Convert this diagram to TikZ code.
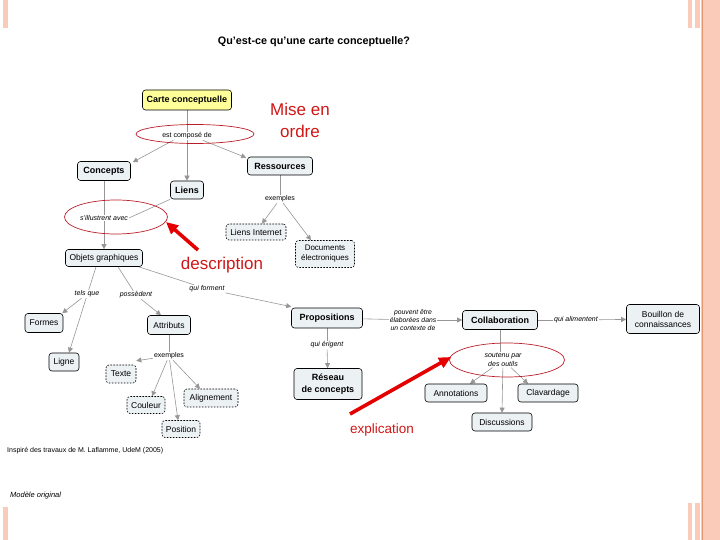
\documentclass[tikz,border=0pt]{standalone}
\usepackage{fontspec}
\setmainfont{Liberation Sans}
\usetikzlibrary{arrows.meta,shapes.geometric}
\definecolor{stripe}{RGB}{249,203,184}
\definecolor{stripedark}{RGB}{232,150,112}
\definecolor{nodefill}{RGB}{236,241,244}
\definecolor{connc}{RGB}{150,150,150}
\definecolor{redtxt}{RGB}{208,22,22}
\definecolor{ellred}{RGB}{185,30,40}
\definecolor{yellowbox}{RGB}{255,255,153}
\pgfdeclarelayer{bg}
\pgfsetlayers{bg,main}
\tikzset{
  cbox/.style={draw=black, line width=0.6pt, rounded corners=3pt, fill=nodefill,
    font=\fontsize{8.5}{10}\selectfont, inner sep=2pt, align=center},
  bbox/.style={cbox, font=\fontsize{9}{11}\selectfont\bfseries},
  dbox/.style={cbox, dash pattern=on 1.6pt off 1.4pt},
  lbl/.style={font=\fontsize{7}{8}\selectfont\itshape, fill=white, inner sep=0.8pt, align=center},
  lblr/.style={lbl, font=\fontsize{7}{8}\selectfont},
  connl/.style={draw=connc, line width=0.6pt},
  arr/.style={connl, -{Triangle[length=5pt,width=5pt]}},
  redell/.style={draw=ellred, line width=0.7pt, ellipse, inner sep=0pt},
  bigred/.style={draw=red!90!black, line width=3.6pt, -{Triangle[length=12pt,width=11pt]}},
  redlabel/.style={text=redtxt, align=center}
}
\begin{document}
\begin{tikzpicture}[x=1pt,y=-1pt]
\useasboundingbox (0,0) rectangle (720,540);
% decorative stripes
\fill[stripe] (3,0) rectangle (8,28);
\fill[stripe] (3,507) rectangle (8,540);
\fill[stripe] (688,0) rectangle (692,28);
\fill[stripe] (688,503) rectangle (692,540);
\fill[stripe] (695,0) rectangle (700,28);
\fill[stripe] (695,503) rectangle (700,540);
\fill[stripe] (701,0) rectangle (720,540);
\draw[stripedark, line width=0.8pt] (702.5,0) -- (702.5,540);

% title
\node (title) at (314,42) {\fontsize{10.8}{12}\selectfont\bfseries Qu'est-ce qu'une carte conceptuelle?};

% concept nodes
\node[bbox, fill=yellowbox, minimum width=89pt, minimum height=20pt] (carte) at (187,100) {Carte conceptuelle};
\node[bbox, minimum width=53pt, minimum height=19pt] (concepts) at (104,171) {Concepts};
\node[bbox, minimum width=33pt, minimum height=18pt] (liens) at (187,190) {Liens};
\node[bbox, minimum width=65pt, minimum height=18pt] (ressources) at (280,166) {Ressources};
\node[dbox, minimum width=60pt, minimum height=16pt] (internet) at (256,232) {Liens Internet};
\node[dbox, minimum width=59pt, minimum height=27pt, font=\fontsize{8}{10}\selectfont] (docs) at (325,254) {Documents\\électroniques};
\node[cbox, minimum width=77pt, minimum height=17pt] (objets) at (104,258) {Objets graphiques};
\node[cbox, minimum width=38pt, minimum height=19pt] (formes) at (44,323) {Formes};
\node[cbox, minimum width=30pt, minimum height=18pt] (ligne) at (64,362) {Ligne};
\node[cbox, minimum width=43pt, minimum height=19pt] (attributs) at (169,325) {Attributs};
\node[dbox, minimum width=30pt, minimum height=18pt] (texte) at (121,374) {Texte};
\node[dbox, minimum width=38pt, minimum height=17pt] (couleur) at (146,405) {Couleur};
\node[dbox, minimum width=54pt, minimum height=18pt] (alignement) at (211,398) {Alignement};
\node[dbox, minimum width=38pt, minimum height=17pt] (position) at (181,429) {Position};
\node[bbox, minimum width=71pt, minimum height=20pt] (propositions) at (327,318) {Propositions};
\node[bbox, minimum width=68pt, minimum height=31pt, font=\fontsize{9}{11.5}\selectfont\bfseries] (reseau) at (328,384) {Réseau\\de concepts};
\node[bbox, minimum width=75pt, minimum height=19pt] (collab) at (500,320) {Collaboration};
\node[cbox, minimum width=73pt, minimum height=29pt] (bouillon) at (663,319) {Bouillon de\\connaissances};
\node[cbox, minimum width=62pt, minimum height=18pt] (annot) at (456,393) {Annotations};
\node[cbox, minimum width=60pt, minimum height=18pt] (clav) at (548,393) {Clavardage};
\node[cbox, minimum width=60pt, minimum height=18pt] (disc) at (502,422) {Discussions};

% link labels
\node[lblr] (ecd) at (187,136) {est composé de};
\node[lbl] (sill) at (104,218) {s'illustrent avec};
\node[lblr] (ex1) at (280,199) {exemples};
\node[lbl] (telsque) at (87,294) {tels que};
\node[lbl] (possedent) at (136,295) {possèdent};
\node[lbl] (quiforment) at (207,289) {qui forment};
\node[lblr] (ex2) at (169,356) {exemples};
\node[lbl, font=\fontsize{6.8}{8.2}\selectfont\itshape] (pouvent) at (413,320) {pouvent être\\élaborées dans\\un contexte de};
\node[lbl] (qerig) at (327,345) {qui érigent};
\node[lbl] (qalim) at (576,320) {qui alimentent};
\node[lbl, font=\fontsize{7}{8.5}\selectfont\itshape] (soutenu) at (503,360) {soutenu par\\des outils};

% red ellipses
\node[redell, minimum width=118pt, minimum height=19pt] (ell1) at (195,134) {};
\node[redell, minimum width=103pt, minimum height=34pt] (ell2) at (116,217) {};
\node[redell, minimum width=115pt, minimum height=34pt] (ell3) at (507,360) {};

% connectors
\begin{pgfonlayer}{bg}
\draw[arr] (carte.south) -- (liens.north);
\draw[arr] ([xshift=12pt]ecd.south west) -- ([xshift=2pt,yshift=-1pt]concepts.north east);
\draw[arr] ([xshift=-10pt]ecd.south east) -- ([xshift=-1pt,yshift=-1pt]ressources.north west);
\draw[arr] (concepts.south) -- (objets.north);
\draw[connl] (liens.south west) -- (sill.east);
\draw[connl] (ressources) -- (ex1);
\draw[arr] (ex1) -- ([xshift=6pt]internet.north);
\draw[arr] (ex1) -- ([xshift=-14pt]docs.north);
\draw[arr] ([xshift=-8pt]objets.south) -- ([xshift=5pt]ligne.north);
\draw[arr] (telsque) -- ([xshift=-1pt]formes.north east);
\draw[connl] ([xshift=14pt]objets.south) -- (possedent);
\draw[arr] (possedent) -- ([xshift=-8pt]attributs.north);
\draw[connl] ([xshift=-4pt]objets.south east) -- (quiforment);
\draw[arr] (quiforment) -- ([yshift=1pt]propositions.north west);
\draw[connl] (attributs) -- (ex2);
\draw[arr] (ex2) -- ([yshift=4pt]texte.north east);
\draw[arr] (ex2) -- ([xshift=6pt]couleur.north);
\draw[arr] (ex2) -- ([xshift=-3pt]position.north);
\draw[arr] (ex2) -- ([xshift=-11pt]alignement.north);
\draw[connl] (propositions) -- (pouvent);
\draw[arr] (pouvent) -- (collab);
\draw[connl] (propositions) -- (qerig);
\draw[arr] (qerig) -- (reseau);
\draw[connl] (collab) -- (qalim);
\draw[arr] (qalim) -- (bouillon);
\draw[connl] (collab.south) -- (collab.south |- soutenu.north);
\draw[arr] (soutenu) -- ([xshift=14pt]annot.north);
\draw[arr] (soutenu) -- ([xshift=-20pt]clav.north);
\draw[arr] (soutenu) -- (disc.north);
\end{pgfonlayer}

% annotations in red
\node[redlabel, font=\fontsize{17}{22}\selectfont] (mise) at (300,120) {Mise en\\ordre};
\node[redlabel, font=\fontsize{17}{20}\selectfont] (desc) at (222,265) {description};
\node[redlabel, font=\fontsize{13.5}{16}\selectfont] (expl) at (382,430) {explication};
\coordinate (r1s) at (198,250);
\coordinate (r1e) at (166,222);
\draw[bigred] (r1s) -- (r1e);
\coordinate (r2s) at (350,414);
\coordinate (r2e) at (451,357);
\draw[bigred] (r2s) -- (r2e);

% footer texts
\node[anchor=west, inner sep=0pt] (insp) at (7,451) {\fontsize{7}{8}\selectfont Inspiré des travaux de M. Laflamme, UdeM (2005)};
\node[anchor=west, inner sep=0pt] (orig) at (10,496) {\fontsize{7.5}{9}\selectfont\itshape Modèle original};
\end{tikzpicture}
\end{document}
